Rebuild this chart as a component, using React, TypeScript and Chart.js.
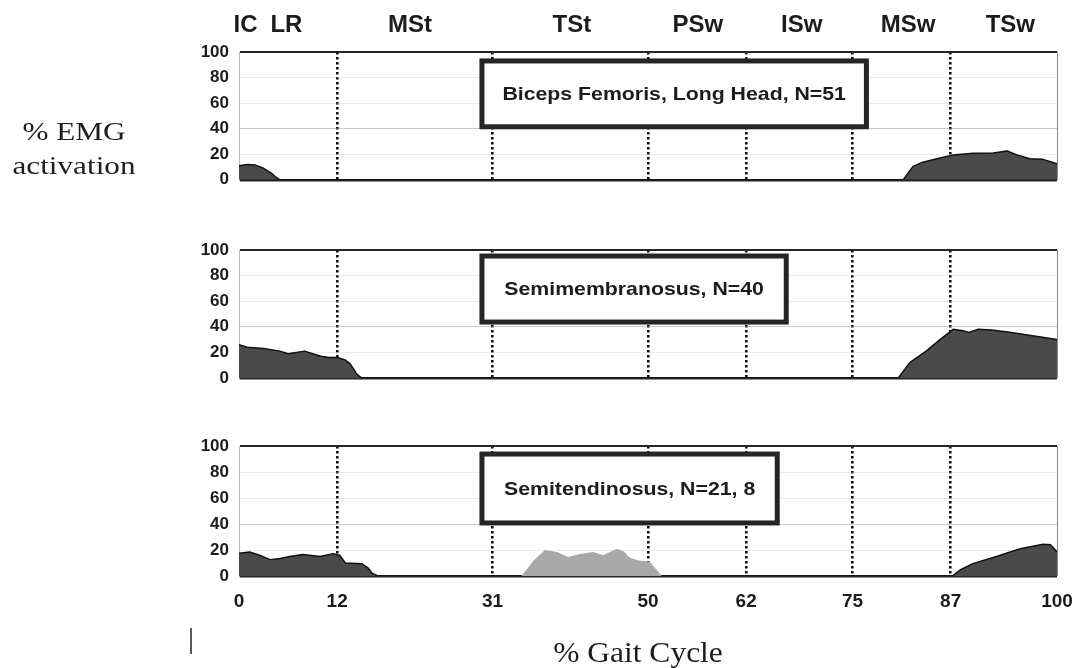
import React, { useEffect, useRef } from 'react';
import { Chart, registerables } from 'chart.js';

Chart.register(...registerables);

// Gait phases: names, where each name sits, and the dividing lines between phases
const PHASE_LABELS = ['IC', 'LR', 'MSt', 'TSt', 'PSw', 'ISw', 'MSw', 'TSw'];
const PHASE_CENTERS = [0.8, 5.8, 20.9, 40.7, 56.1, 68.8, 81.8, 94.3];
const PHASE_BOUNDARIES = [12, 31, 50, 62, 75, 87];
const GAIT_TICKS = [0, ...PHASE_BOUNDARIES, 100];
const EMG_TICKS = [0, 20, 40, 60, 80, 100];

// Biceps femoris, long head (N=51)
const bfPct = [0, 1, 2, 3, 4, 4.5, 5, 81.2, 82.4, 83.6, 85.7, 87.3, 89.8, 92.2, 93.9, 95.1, 96.7, 98.3, 100];
const bfEmg = [11, 12, 11.5, 9, 5, 2, 0, 0, 10.5, 13.8, 17, 19.5, 20.8, 21, 22.5, 19.5, 16.4, 16, 12.5];

// Semimembranosus (N=40)
const smPct = [0, 1, 3, 5, 6, 8, 10, 11, 12, 13, 13.6, 14.4, 15, 80.6, 82, 84, 85.7, 87.3, 88.5, 89.2, 90.3, 92, 94, 96, 98, 100];
const smEmg = [26, 24, 23, 21, 19, 21, 17, 16, 16, 14, 11, 3, 0, 0, 12, 21, 30, 38, 37, 35.5, 38, 37.5, 36, 34, 32, 30];

// Semitendinosus (N=21, 8): main bursts
const stPct = [0, 1.3, 2.5, 3.8, 5, 6.2, 7.8, 9.9, 11.5, 12.3, 13, 15, 15.8, 16.3, 17, 87.2, 88.1, 89.7, 92.6, 95.5, 98.3, 99.2, 100];
const stEmg = [17.5, 18.5, 16, 12.6, 13.5, 15, 16.5, 15, 17.2, 16, 10, 9.5, 6, 2, 0, 0, 4.4, 9.5, 15, 21, 24.4, 24, 18.5];

// Semitendinosus: terminal stance burst
const stTStPct = [34.5, 35.3, 36, 37.4, 38.9, 40.2, 41.7, 43.3, 44.5, 46.2, 47, 47.8, 48.8, 50.2, 51.7];
const stTStEmg = [0, 6, 12, 20, 18.5, 14.7, 17, 18.5, 16, 21, 19, 14, 12, 11, 0];

type Series = { pct: number[]; emg: number[]; fill: string; line: string; width: number };
type Note = { text: string; x: number; y: number; font: string; stretch: number };
type Panel = {
  top: number;
  height: number;
  areaTop: number;
  areaBottom: number;
  label: string;
  box: { x0: number; x1: number; y0: number; y1: number };
  series: Series[];
  phases: boolean;
  gaitTicks: boolean;
  notes: Note[];
};

const DARK = '#4a4a4a';
const LIGHT = '#a9a9a9';
const SANS = '"Liberation Sans", Arial, sans-serif';
const SERIF = '"Liberation Serif", "Times New Roman", serif';

const PANELS: Panel[] = [
  {
    top: 0, height: 200, areaTop: 52, areaBottom: 182,
    label: 'Biceps Femoris, Long Head, N=51',
    box: { x0: 29.7, x1: 76.7, y0: 41.5, y1: 93 },
    series: [{ pct: bfPct, emg: bfEmg, fill: DARK, line: '#111', width: 1.5 }],
    phases: true, gaitTicks: false,
    notes: [
      { text: '% EMG', x: 74, y: 140, font: `26px ${SERIF}`, stretch: 1.2 },
      { text: 'activation', x: 74, y: 174, font: `26px ${SERIF}`, stretch: 1.2 },
    ],
  },
  {
    top: 200, height: 200, areaTop: 50, areaBottom: 178,
    label: 'Semimembranosus, N=40',
    box: { x0: 29.7, x1: 66.9, y0: 43.7, y1: 95.3 },
    series: [{ pct: smPct, emg: smEmg, fill: DARK, line: '#111', width: 1.5 }],
    phases: false, gaitTicks: false,
    notes: [],
  },
  {
    top: 400, height: 268, areaTop: 46, areaBottom: 176,
    label: 'Semitendinosus, N=21, 8',
    box: { x0: 29.7, x1: 65.8, y0: 40.8, y1: 93.8 },
    series: [
      { pct: stTStPct, emg: stTStEmg, fill: LIGHT, line: 'rgba(0,0,0,0)', width: 0 },
      { pct: stPct, emg: stEmg, fill: DARK, line: '#111', width: 1.5 },
    ],
    phases: false, gaitTicks: true,
    notes: [
      { text: '|', x: 191, y: 248, font: `30px ${SERIF}`, stretch: 1 },
      { text: '% Gait Cycle', x: 638, y: 262, font: `30px ${SERIF}`, stretch: 1.05 },
    ],
  },
];

// Labelled box inside each panel, placed in data units
const boxPlugin = {
  id: 'muscleBox',
  afterDatasetsDraw(chart: any, _args: any, opts: any) {
    const { ctx } = chart;
    const xs = chart.scales.x;
    const ys = chart.scales.y;
    const l = xs.getPixelForValue(opts.x0);
    const r = xs.getPixelForValue(opts.x1);
    const t = ys.getPixelForValue(opts.y1);
    const b = ys.getPixelForValue(opts.y0);
    ctx.save();
    ctx.fillStyle = '#fff';
    ctx.fillRect(l, t, r - l, b - t);
    ctx.lineWidth = 5;
    ctx.strokeStyle = '#252525';
    ctx.strokeRect(l, t, r - l, b - t);
    ctx.fillStyle = '#1c1c1c';
    ctx.font = `bold 19px ${SANS}`;
    ctx.textAlign = 'center';
    ctx.textBaseline = 'middle';
    ctx.translate((l + r) / 2, (t + b) / 2 + 1);
    ctx.scale(1.12, 1);
    ctx.fillText(opts.text, 0, 0);
    ctx.restore();
  },
};

// Right-hand frame line of each panel
const framePlugin = {
  id: 'panelFrame',
  beforeDatasetsDraw(chart: any) {
    const { ctx, chartArea } = chart;
    ctx.save();
    ctx.strokeStyle = '#8a8a8a';
    ctx.lineWidth = 1;
    ctx.beginPath();
    ctx.moveTo(chartArea.right + 0.5, chartArea.top);
    ctx.lineTo(chartArea.right + 0.5, chartArea.bottom);
    ctx.stroke();
    ctx.restore();
  },
};

// Free-standing text outside the plot area
const notesPlugin = {
  id: 'notes',
  afterDraw(chart: any, _args: any, opts: any) {
    const { ctx } = chart;
    for (const n of (opts.items || []) as Note[]) {
      ctx.save();
      ctx.fillStyle = '#1e1e1e';
      ctx.textAlign = 'center';
      ctx.textBaseline = 'alphabetic';
      ctx.font = n.font;
      ctx.translate(n.x, n.y);
      ctx.scale(n.stretch, 1);
      ctx.fillText(n.text, 0, 0);
      ctx.restore();
    }
  },
};

function makeConfig(p: Panel): any {
  const scales: any = {
    x: {
      type: 'linear',
      position: 'bottom',
      min: 0,
      max: 100,
      afterBuildTicks: (s: any) => { s.ticks = GAIT_TICKS.map((v) => ({ value: v })); },
      afterFit: (s: any) => {
        s.height = p.height - p.areaBottom;
        s.paddingLeft = 0;
        s.paddingRight = 0;
      },
      grid: {
        drawTicks: false,
        color: (c: any) => (c.tick && (c.tick.value === 0 || c.tick.value === 100) ? 'rgba(0,0,0,0)' : '#111'),
        lineWidth: 2.6,
      },
      border: { display: false, dash: [2.5, 2.5] },
      ticks: {
        display: p.gaitTicks,
        autoSkip: false,
        maxRotation: 0,
        padding: 14,
        color: '#1c1c1c',
        font: { family: SANS, size: 19, weight: 'bold' },
        callback: (v: any) => String(v),
      },
    },
    y: {
      type: 'linear',
      min: 0,
      max: 100,
      afterBuildTicks: (s: any) => { s.ticks = EMG_TICKS.map((v) => ({ value: v })); },
      afterFit: (s: any) => { s.width = 239; },
      grid: {
        drawTicks: false,
        color: (c: any) => {
          const v = c.tick ? c.tick.value : -1;
          if (v === 0 || v === 100) return '#262626';
          if (v === 40) return 'rgba(140,140,140,0.45)';
          return 'rgba(190,190,190,0.3)';
        },
        lineWidth: (c: any) => {
          const v = c.tick ? c.tick.value : -1;
          if (v === 0) return 2.5;
          if (v === 100) return 2;
          return 1;
        },
      },
      border: { display: true, color: '#b8b8b8', width: 1 },
      ticks: {
        padding: 10,
        color: '#1c1c1c',
        font: { family: SANS, size: 17, weight: 'bold' },
        callback: (v: any) => String(v),
      },
    },
  };

  if (p.phases) {
    scales.xTop = {
      type: 'linear',
      position: 'top',
      min: 0,
      max: 100,
      afterBuildTicks: (s: any) => { s.ticks = PHASE_CENTERS.map((v) => ({ value: v })); },
      afterFit: (s: any) => {
        s.height = p.areaTop;
        s.paddingLeft = 0;
        s.paddingRight = 0;
      },
      grid: { display: false, drawTicks: false },
      border: { display: false },
      ticks: {
        autoSkip: false,
        maxRotation: 0,
        padding: 12,
        color: '#1c1c1c',
        font: { family: SANS, size: 24, weight: 'bold' },
        callback: (_v: any, i: number) => PHASE_LABELS[i],
      },
    };
  }

  return {
    type: 'line',
    data: {
      datasets: p.series.map((s) => ({
        data: s.pct.map((x, i) => ({ x, y: s.emg[i] })),
        xAxisID: 'x',
        yAxisID: 'y',
        fill: 'origin',
        backgroundColor: s.fill,
        borderColor: s.line,
        borderWidth: s.width,
        pointRadius: 0,
        tension: 0,
        borderJoinStyle: 'round',
      })),
    },
    options: {
      responsive: false,
      animation: false,
      devicePixelRatio: 1,
      layout: { padding: { left: 0, right: 19, top: p.phases ? 0 : p.areaTop, bottom: 0 } },
      plugins: {
        legend: { display: false },
        tooltip: { enabled: false },
        muscleBox: { ...p.box, text: p.label },
        notes: { items: p.notes },
      },
      scales,
    },
    plugins: [framePlugin, boxPlugin, notesPlugin],
  };
}

function PanelChart({ panel }: { panel: Panel }) {
  const ref = useRef<HTMLCanvasElement | null>(null);
  useEffect(() => {
    if (!ref.current) return;
    const chart = new Chart(ref.current, makeConfig(panel));
    return () => chart.destroy();
  }, [panel]);
  return (
    <canvas
      ref={ref}
      width={1076}
      height={panel.height}
      style={{ position: 'absolute', left: 0, top: panel.top, width: 1076, height: panel.height }}
    />
  );
}

export default function App() {
  return (
    <div style={{ position: 'absolute', left: 0, top: 0, width: 1076, height: 668, background: '#fff', overflow: 'hidden' }}>
      {PANELS.map((p, i) => (
        <PanelChart key={i} panel={p} />
      ))}
    </div>
  );
}
